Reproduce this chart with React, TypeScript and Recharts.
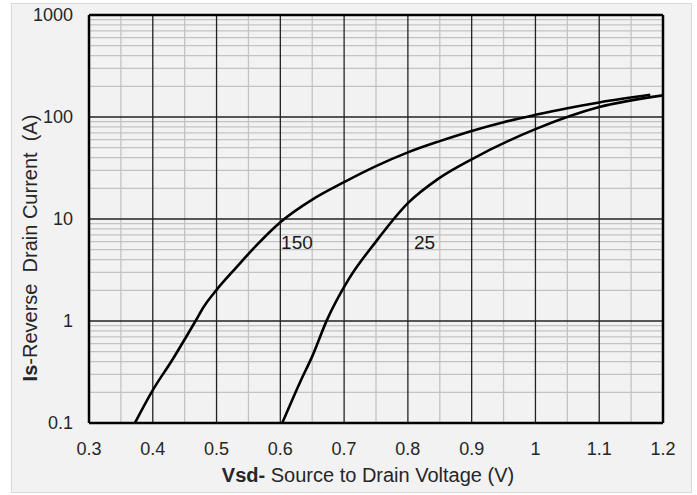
import { LineChart, Line, XAxis, YAxis, ReferenceLine, ReferenceDot, Label } from "recharts";

// axis ticks
const X_TICKS = [0.3, 0.4, 0.5, 0.6, 0.7, 0.8, 0.9, 1.0, 1.1, 1.2];
const Y_TICKS = [0.1, 1, 10, 100, 1000];
const X_MINOR = [0.35, 0.45, 0.55, 0.65, 0.75, 0.85, 0.95, 1.05, 1.15];
const Y_MINOR = [
  0.2, 0.3, 0.4, 0.5, 0.6, 0.7, 0.8, 0.9,
  2, 3, 4, 5, 6, 7, 8, 9,
  20, 30, 40, 50, 60, 70, 80, 90,
  200, 300, 400, 500, 600, 700, 800, 900,
];

// Tj = 150
const T150_V = [0.372, 0.4, 0.43, 0.467, 0.48, 0.5, 0.53, 0.557, 0.6, 0.65, 0.7, 0.75, 0.8, 0.85, 0.9, 0.95, 1.0, 1.05, 1.1, 1.18];
const T150_I = [0.1, 0.21, 0.41, 1.0, 1.38, 2.02, 3.3, 5.07, 9.3, 15.5, 23, 33, 45, 58, 73, 89, 105, 122, 139, 165];

// Tj = 25
const T25_V = [0.603, 0.632, 0.65, 0.673, 0.707, 0.749, 0.8, 0.848, 0.9, 1.0, 1.1, 1.2];
const T25_I = [0.1, 0.26, 0.45, 1.02, 2.56, 5.9, 14.3, 24.9, 38.5, 76, 125, 163];

// curve labels
const CURVE_LABELS = ["150", "25"];
const CURVE_LABEL_V = [0.626, 0.826];
const CURVE_LABEL_I = [5.9, 5.9];

const d150 = T150_V.map((v, k) => ({ v, i: T150_I[k] }));
const d25 = T25_V.map((v, k) => ({ v, i: T25_I[k] }));

const FONT = "'Liberation Sans', Arial, sans-serif";
const tickStyle = { fontSize: 18, fill: "#262626", fontFamily: FONT };

function XTitle(props: any) {
  const vb = props.viewBox;
  return (
    <text x={vb.x + vb.width / 2 - 8} y={vb.y + 59} textAnchor="middle" fontSize={20} fill="#262626" fontFamily={FONT}>
      <tspan fontWeight="bold">Vsd-</tspan>
      <tspan> Source to Drain Voltage (V)</tspan>
    </text>
  );
}

function YTitle(props: any) {
  const vb = props.viewBox;
  const cx = vb.x + vb.width - 59;
  const cy = vb.y + vb.height / 2 + 29;
  return (
    <text
      x={cx}
      y={cy}
      transform={`rotate(-90 ${cx} ${cy})`}
      textAnchor="middle"
      dominantBaseline="central"
      fontSize={20}
      fill="#262626"
      fontFamily={FONT}
      style={{ whiteSpace: "pre" }}
    >
      <tspan fontWeight="bold">Is</tspan>
      <tspan>-Reverse  Drain Current  (A)</tspan>
    </text>
  );
}

export default function App() {
  return (
    <div style={{ position: "absolute", left: 0, top: 0, width: 697, height: 495, background: "#fff" }}>
      <div
        style={{
          position: "absolute",
          left: 11,
          top: 3,
          width: 681,
          height: 490,
          background: "#f2f2f2",
          border: "1px solid #d9d9d9",
          boxSizing: "border-box",
        }}
      />
      <div style={{ position: "absolute", left: 0, top: 0 }}>
        <LineChart width={697} height={495} margin={{ top: 15, right: 34, bottom: 42, left: 39 }}>
          <XAxis
            type="number"
            dataKey="v"
            domain={[0.3, 1.2]}
            ticks={X_TICKS}
            allowDataOverflow
            height={30}
            tickLine={false}
            tickSize={6}
            tickMargin={13}
            tick={tickStyle}
            tickFormatter={(v: number) => String(+v.toFixed(1))}
            axisLine={{ stroke: "#000", strokeWidth: 2.5 }}
          >
            <Label content={XTitle} />
          </XAxis>
          <YAxis
            type="number"
            scale="log"
            domain={[0.1, 1000]}
            ticks={Y_TICKS}
            allowDataOverflow
            width={50}
            tickLine={false}
            tickSize={6}
            tickMargin={10}
            tick={tickStyle}
            tickFormatter={(v: number) => String(v)}
            axisLine={{ stroke: "#000", strokeWidth: 2.5 }}
          >
            <Label content={YTitle} />
          </YAxis>

          {X_MINOR.map((x) => (
            <ReferenceLine key={`xm${x}`} x={x} stroke="#c3c3c3" strokeWidth={1.3} />
          ))}
          {Y_MINOR.map((y) => (
            <ReferenceLine key={`ym${y}`} y={y} stroke="#c3c3c3" strokeWidth={1.3} />
          ))}
          {X_TICKS.slice(1, -1).map((x) => (
            <ReferenceLine key={`xM${x}`} x={x} stroke="#222" strokeWidth={1.3} />
          ))}
          {Y_TICKS.slice(1, -1).map((y) => (
            <ReferenceLine key={`yM${y}`} y={y} stroke="#222" strokeWidth={1.3} />
          ))}
          <ReferenceLine x={1.2} stroke="#000" strokeWidth={2.5} />
          <ReferenceLine y={1000} stroke="#000" strokeWidth={2.5} />

          <Line data={d150} dataKey="i" type="monotone" stroke="#000" strokeWidth={2.6} dot={false} isAnimationActive={false} />
          <Line data={d25} dataKey="i" type="monotone" stroke="#000" strokeWidth={2.6} dot={false} isAnimationActive={false} />

          {CURVE_LABELS.map((t, k) => (
            <ReferenceDot
              key={t}
              x={CURVE_LABEL_V[k]}
              y={CURVE_LABEL_I[k]}
              r={0}
              fill="none"
              stroke="none"
              label={{ value: t, position: "center", fontSize: 19, fill: "#1a1a1a", fontFamily: FONT }}
            />
          ))}
        </LineChart>
      </div>
    </div>
  );
}
